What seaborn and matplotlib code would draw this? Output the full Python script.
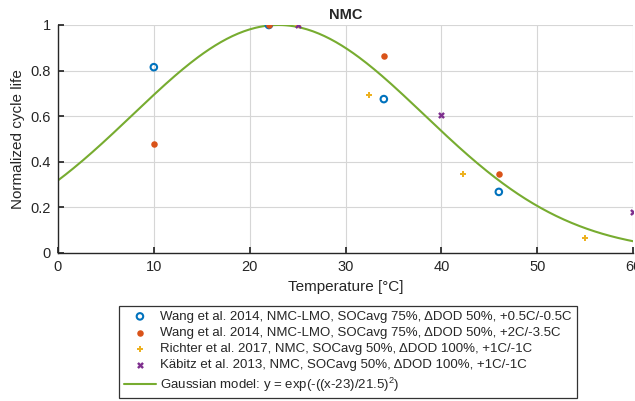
import numpy as np
import pandas as pd
import matplotlib
matplotlib.use("Agg")
import matplotlib.pyplot as plt
import seaborn as sns

# --- data ---
wang1_temp = [10, 22, 34, 46]
wang1_life = [0.815, 1.0, 0.675, 0.268]

wang2_temp = [10, 22, 34, 46]
wang2_life = [0.48, 1.0, 0.866, 0.348]

richter_temp = [25, 32.5, 42.3, 55]
richter_life = [1.0, 0.692, 0.347, 0.065]

kabitz_temp = [25, 40, 60]
kabitz_life = [1.0, 0.605, 0.18]

labels = [
    "Wang et al. 2014, NMC-LMO, SOCavg 75%, \u0394DOD 50%, +0.5C/-0.5C",
    "Wang et al. 2014, NMC-LMO, SOCavg 75%, \u0394DOD 50%, +2C/-3.5C",
    "Richter et al. 2017, NMC, SOCavg 50%, \u0394DOD 100%, +1C/-1C",
    "K\u00e4bitz et al. 2013, NMC, SOCavg 50%, \u0394DOD 100%, +1C/-1C",
    "Gaussian model: y = exp(-((x-23)/21.5)$^2$)",
]

# model curve as given in the legend
model_t = np.linspace(0, 60, 301)
model_y = np.exp(-((model_t - 23) / 21.5) ** 2)

sns.set_theme(style="white")
plt.rcParams["font.family"] = ["Liberation Sans", "DejaVu Sans"]
plt.rcParams["mathtext.fontset"] = "custom"
plt.rcParams["mathtext.rm"] = "Liberation Sans"

fig = plt.figure(figsize=(6.35, 4.01), dpi=100)
ax = fig.add_axes([58 / 635, 1 - 253 / 401, 575 / 635, 228 / 401])

ax.grid(True, color="#d6d6d6", linewidth=0.8)
ax.set_axisbelow(True)

sns.lineplot(x=model_t, y=model_y, ax=ax, color="#77AC30", linewidth=1.5,
             label=labels[4], zorder=2)
sns.scatterplot(x=wang1_temp, y=wang1_life, ax=ax, marker="o", s=22,
                facecolor="none", edgecolor="#0072BD", linewidth=1.5,
                label=labels[0], zorder=3)
sns.scatterplot(x=wang2_temp, y=wang2_life, ax=ax, marker="o", s=22,
                color="#D95319", edgecolor="#D95319", linewidth=0,
                label=labels[1], zorder=3)
sns.scatterplot(x=richter_temp, y=richter_life, ax=ax, marker="P", s=24,
                color="#EDB120", edgecolor="#EDB120", linewidth=0,
                label=labels[2], zorder=3)
sns.scatterplot(x=kabitz_temp, y=kabitz_life, ax=ax, marker="X", s=24,
                color="#7E2F8E", edgecolor="#7E2F8E", linewidth=0,
                label=labels[3], zorder=3)

ax.set_xlim(0, 60)
ax.set_ylim(0, 1)
ax.set_xticks([0, 10, 20, 30, 40, 50, 60])
ax.set_yticks([0, 0.2, 0.4, 0.6, 0.8, 1])
ax.set_yticklabels(["0", "0.2", "0.4", "0.6", "0.8", "1"])
ax.tick_params(direction="in", length=4, labelsize=10.5, colors="#262626",
               bottom=True, left=True, pad=5)
for side in ["top", "right"]:
    ax.spines[side].set_visible(False)
for side in ["left", "bottom"]:
    ax.spines[side].set_color("#262626")
    ax.spines[side].set_linewidth(1.0)

ax.set_xlabel("Temperature [\u00b0C]", fontsize=11, color="#262626", labelpad=4)
ax.set_ylabel("Normalized cycle life", fontsize=11, color="#262626", labelpad=4)
ax.set_title("NMC", fontsize=10.5, fontweight="bold", pad=4)

# legend order: series first, model last
handles, labs = ax.get_legend_handles_labels()
order = [labs.index(l) for l in labels]
leg = ax.legend([handles[i] for i in order], [labs[i] for i in order],
                loc="upper center", bbox_to_anchor=(348 / 635, 1 - 306 / 401),
                bbox_transform=fig.transFigure, fontsize=9.5, frameon=True,
                fancybox=False, edgecolor="black", handlelength=2.4,
                handletextpad=0.35, borderpad=0.35, borderaxespad=0,
                labelspacing=0.3)
leg.get_frame().set_linewidth(0.9)

fig.savefig("out.png", dpi=100)
